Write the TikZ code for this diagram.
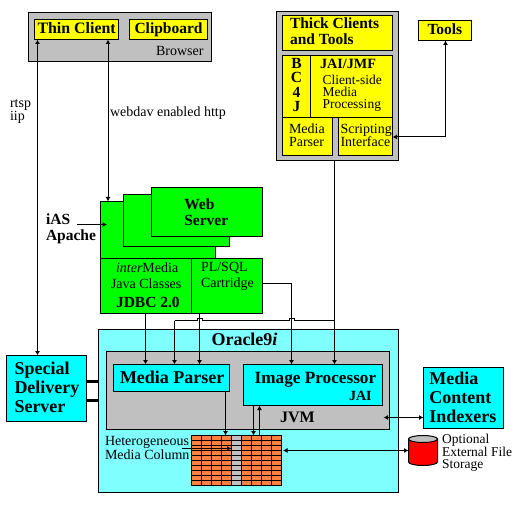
\documentclass[tikz,border=0pt]{standalone}
\usepackage{fontspec}
\setmainfont{Liberation Serif}
\usetikzlibrary{arrows.meta}
\definecolor{oracleC}{HTML}{80FFFF}
\definecolor{grayC}{HTML}{C0C0C0}
\definecolor{brickC}{HTML}{FF7F3F}
\definecolor{pureCyan}{HTML}{00FFFF}
\definecolor{pureGreen}{HTML}{00FF00}
\definecolor{pureYellow}{HTML}{FFFF00}
\definecolor{pureRed}{HTML}{FF0000}
\tikzset{
  box/.style={draw=black,line width=1pt,inner sep=0pt,outer sep=0pt,rectangle},
  grayb/.style={box,fill=grayC},
  yellowb/.style={box,fill=pureYellow},
  greenb/.style={box,fill=pureGreen},
  cyanb/.style={box,fill=pureCyan},
  oracleb/.style={box,fill=oracleC},
  tx/.style={anchor=base west,inner sep=0pt,outer sep=0pt,font=\fontsize{14}{16}\selectfont},
  txm/.style={anchor=base west,inner sep=0pt,outer sep=0pt,align=left,font=\fontsize{14}{12}\selectfont},
  txb/.style={tx,font=\fontsize{15.5}{18}\selectfont\bfseries},
  txbig/.style={tx,font=\fontsize{18}{20}\selectfont\bfseries},
  conn/.style={draw=black,line width=1pt},
  arr/.style={conn,-{Latex[length=4.5pt,width=5pt]}},
  arrb/.style={conn,{Latex[length=4.5pt,width=5pt]}-{Latex[length=4.5pt,width=5pt]}},
  bar/.style={draw=black,line width=3pt}
}
\newcommand\bx[6]{\node[#2,minimum width={#5-#3},minimum height={#6-#4}] (#1) at ({(#3+#5)/2},{(#4+#6)/2}) {};}
\newcommand\lbl[5]{\node[#4] (#1) at (#2,#3) {#5};}
\begin{document}
\begin{tikzpicture}[x=1pt,y=-1pt]
\useasboundingbox (0,0) rectangle (521,529);
\fill[white] (0,0) rectangle (521,529);
% browser
\bx{browser}{grayb}{28.5}{12.5}{211.5}{62}
\bx{thin}{yellowb}{34.5}{19.5}{118.5}{39.5}
\bx{clip}{yellowb}{129.5}{19.5}{207.5}{39.5}
% thick clients
\bx{thick}{grayb}{276.5}{11.5}{398.5}{160.5}
\bx{thicktitle}{yellowb}{282.5}{15.5}{392.5}{50.5}
\bx{bcfj}{yellowb}{282.5}{55.5}{310.5}{118}
\bx{jai}{yellowb}{310.5}{55.5}{392.5}{118}
\bx{mp}{yellowb}{282.5}{118}{332.5}{156}
\bx{script}{yellowb}{338.5}{118}{392.5}{156}
\bx{tools}{yellowb}{418.5}{20.5}{471.5}{40.5}
% web servers
\bx{ws1}{greenb}{100.5}{201.5}{215.5}{258.5}
\bx{ws2}{greenb}{123.5}{194.5}{229.5}{246.5}
\bx{ws3}{greenb}{151.5}{187.5}{262.5}{236.5}
\bx{im}{greenb}{100.5}{258.5}{191.5}{313.5}
\bx{pl}{greenb}{191.5}{258.5}{262.5}{313.5}
% oracle
\bx{oracle}{oracleb}{98.5}{329.5}{398.5}{492.5}
\bx{jvm}{grayb}{106.5}{351.5}{389.5}{429.5}
\bx{mparser}{cyanb}{113.5}{364.5}{229.5}{391.5}
\bx{iproc}{cyanb}{243.5}{364.5}{382.5}{405.5}
\bx{special}{cyanb}{6.5}{355.5}{86.5}{421.5}
\bx{indexers}{cyanb}{423.5}{367.5}{503.5}{428.5}
% media column
\bx{col}{box,fill=brickC}{191.5}{435.5}{281.5}{485.5}
\bx{colgap}{grayb}{231.5}{435.5}{241.5}{485.5}
\foreach \r in {440.5,445.5,...,480.5} {\draw[line width=1pt] (191.5,\r) -- (281.5,\r);}
\foreach \c in {201.5,211.5,221.5,251.5,261.5,271.5} {\draw[line width=1pt] (\c,435.5) -- (\c,485.5);}
\draw[line width=1pt] (col.north west) rectangle (col.south east);
\draw[line width=1pt] (colgap.north west) rectangle (colgap.south east);
% storage
\node[inner sep=0pt,outer sep=0pt,minimum width=29pt,minimum height=30pt] (store) at (423,450.5) {};
\draw[line width=1pt,fill=pureRed] (store.north west) ++(0,3.5) -- ++(0,23) arc[start angle=180,end angle=360,x radius=14.5,y radius=-3.5] -- ++(0,-23) -- cycle;
\draw[line width=1pt,fill=grayC] (423,439) ellipse[x radius=14.5,y radius=3.5];
% guide coordinates
\coordinate (xa) at (37.5,0);
\coordinate (xb) at (108,0);
\coordinate (xc) at (145.5,0);
\coordinate (xd) at (174.5,0);
\coordinate (xe) at (199.5,0);
\coordinate (xf) at (291.5,0);
\coordinate (xg) at (334.5,0);
\coordinate (xh) at (445.5,0);
\coordinate (xi) at (225.5,0);
\coordinate (xj) at (253.5,0);
\coordinate (xk) at (259.5,0);
\coordinate (ya) at (0,137);
\coordinate (yb) at (0,283.5);
\coordinate (yc) at (0,320.5);
\coordinate (yd) at (0,381.5);
\coordinate (ye) at (0,400.5);
\coordinate (yf) at (0,417.5);
\coordinate (yg) at (0,450.5);
\coordinate (iasarrow) at (77,224.5);
\coordinate (hetero) at (181.5,448.5);
% connectors
\draw[arrb] (thin.south -| xa) -- (special.north -| xa);
\draw[arrb] (thin.south -| xb) -- (ws1.north -| xb);
\draw[arrb] (script.east |- ya) -| (tools.south -| xh);
\draw[arr] (thick.south -| xg) -- (iproc.north -| xg);
\draw[arr] (pl.east |- yb) -| (iproc.north -| xf);
\draw[arr] (im.south -| xc) -- (mparser.north -| xc);
\draw[arr] (pl.south -| xe) -- (mparser.north -| xe);
\draw[arr] (xd |- yc) -- (mparser.north -| xd);
\draw[conn] (xd |- yc) -- ([xshift=-2.5pt]xe |- yc) -- ++(0,-2.5) -- ++(5,0) -- ++(0,2.5) -- ([xshift=-2.5pt]xf |- yc) -- ++(0,-2.5) -- ++(5,0) -- ++(0,2.5) -- (xg |- yc);
\draw[arr] (iasarrow) -- ([xshift=6.5pt]ws1.west |- iasarrow);
\draw[bar] (special.east |- yd) -- (oracle.west |- yd);
\draw[bar] (special.east |- ye) -- (oracle.west |- ye);
\draw[arr] (mparser.south -| xi) -- (col.north -| xi);
\draw[arr] (iproc.south -| xj) -- (col.north -| xj);
\draw[arr] (col.north -| xk) -- (iproc.south -| xk);
\draw[arrb] ([xshift=1pt]iproc.east |- yf) -- (indexers.west |- yf);
\draw[arr] (hetero) -- (colgap.west |- hetero);
\draw[arrb] ([xshift=1.5pt]col.east |- yg) -- (store.west |- yg);
% labels
\lbl{t1}{37.5}{34}{txb,font=\fontsize{15.9}{18}\selectfont\bfseries}{Thin Client}
\lbl{t2}{134.5}{34}{txb}{Clipboard}
\lbl{t3}{156}{56}{tx}{Browser}
\lbl{t4}{10}{121}{txm}{rtsp\\iip}
\lbl{t6}{110}{117}{tx}{webdav enabled http}
\lbl{t7}{290}{45}{txb,align=left,font=\fontsize{15.5}{16}\selectfont\bfseries}{Thick Clients\\and Tools}
\lbl{t9}{427.5}{35}{txb}{Tools}
\lbl{b1}{296.5}{111.7}{txb,align=center,anchor=base,font=\fontsize{15.5}{14.4}\selectfont\bfseries}{B\\C\\4\\J}
\lbl{t10}{320}{68.3}{txb,font=\fontsize{14.2}{16}\selectfont\bfseries}{JAI/JMF}
\lbl{t11}{322.5}{109}{txm,font=\fontsize{13.5}{12}\selectfont}{Client-side\\Media\\Processing}
\lbl{t14}{289}{146.7}{txm,font=\fontsize{14}{13.4}\selectfont}{Media\\Parser}
\lbl{t16}{340.5}{146.7}{txm,font=\fontsize{14}{13.4}\selectfont}{Scripting\\Interface}
\lbl{t18}{184.3}{225}{txb,align=left,font=\fontsize{15.5}{16}\selectfont\bfseries}{Web\\Server}
\lbl{t20}{46}{240}{txb,align=left,font=\fontsize{15.5}{16}\selectfont\bfseries}{iAS\\Apache}
\lbl{t22}{116}{272.7}{tx}{\textit{inter}Media}
\lbl{t23}{111}{288.7}{tx}{Java Classes}
\lbl{t24}{116}{307.7}{txb}{JDBC 2.0}
\lbl{t25}{201}{287.7}{txm,font=\fontsize{14}{16}\selectfont}{PL/SQL\\Cartridge}
\lbl{t27}{211.5}{345.3}{txbig}{Oracle9\textit{i}}
\lbl{t28}{14.5}{412.3}{txbig,align=left,font=\fontsize{18}{19.1}\selectfont\bfseries}{Special\\Delivery\\Server}
\lbl{t31}{120}{383}{txbig}{Media Parser}
\lbl{t32}{254.7}{383.3}{txbig,font=\fontsize{17.2}{20}\selectfont\bfseries}{Image Processor}
\lbl{t33}{349}{400.7}{txb,font=\fontsize{14}{16}\selectfont\bfseries}{JAI}
\lbl{t34}{280}{422.3}{txb,font=\fontsize{16}{18}\selectfont\bfseries}{JVM}
\lbl{t35}{429.3}{422}{txbig,align=left,font=\fontsize{18}{19}\selectfont\bfseries}{Media\\Content\\Indexers}
\lbl{t38}{105}{459.3}{txm,font=\fontsize{14}{12.6}\selectfont}{Heterogeneous\\Media Column}
\lbl{t40}{442}{468}{txm,font=\fontsize{13.5}{11.7}\selectfont}{Optional\\External File\\Storage}
\end{tikzpicture}
\end{document}
